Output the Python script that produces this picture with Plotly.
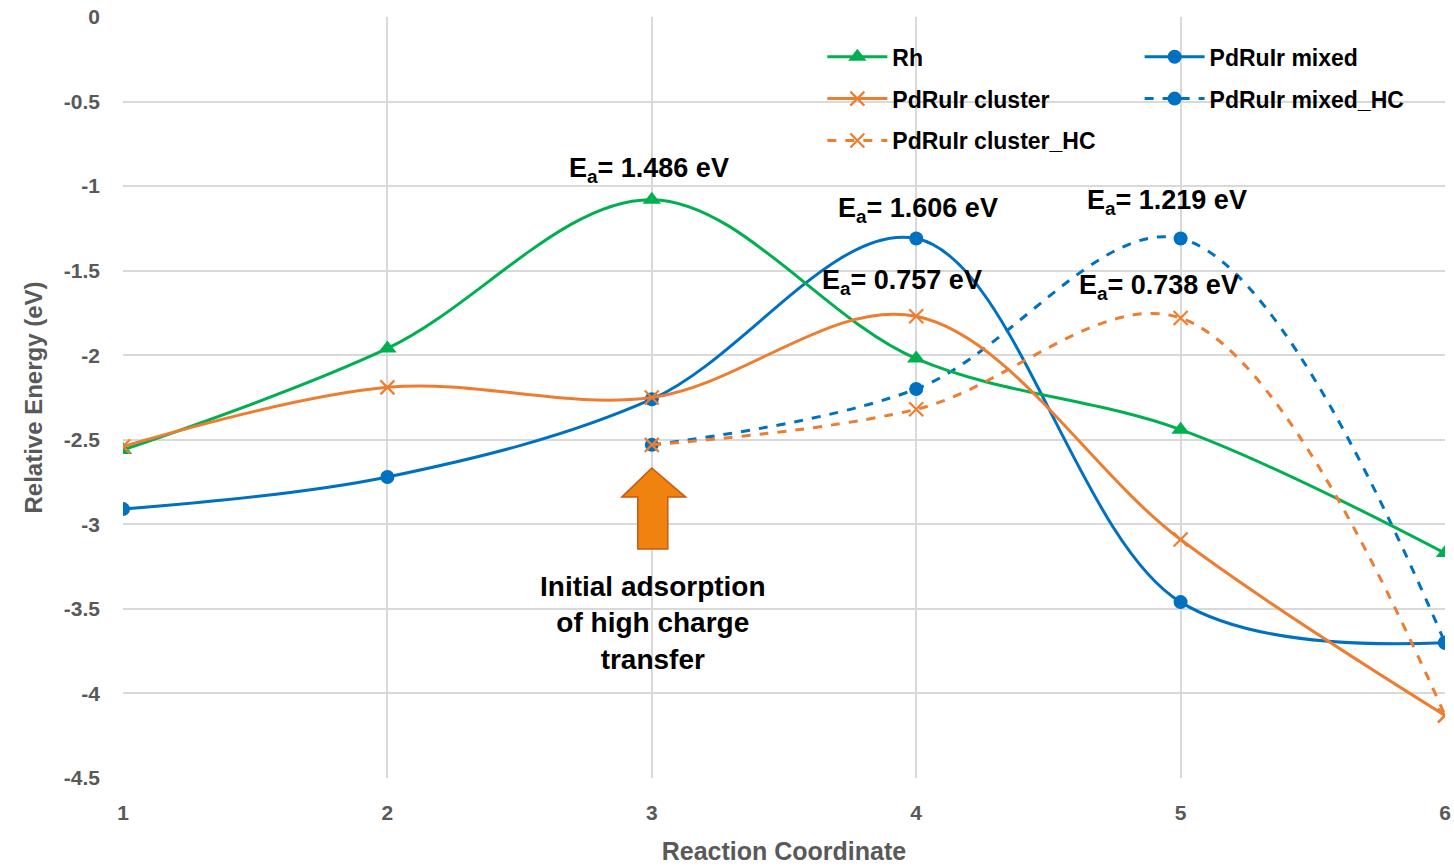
import plotly.graph_objects as go

x_all = [1, 2, 3, 4, 5, 6]
x_hc = [3, 4, 5, 6]

rh = [-2.56, -1.96, -1.08, -2.02, -2.44, -3.17]
cluster = [-2.54, -2.19, -2.25, -1.77, -3.09, -4.13]
mixed = [-2.91, -2.72, -2.26, -1.31, -3.46, -3.70]
mixed_hc = [-2.53, -2.20, -1.31, -3.70]
cluster_hc = [-2.53, -2.32, -1.78, -4.13]

GREEN = "#00B050"
BLUE = "#0070C0"
ORANGE = "#ED7D31"
FONT = "Liberation Sans, Arial, sans-serif"

fig = go.Figure()

def add(name, x, y, color, symbol, dash, legend, rank):
    if symbol == "x-thin":
        mk = dict(color=color, size=14, symbol=symbol, line=dict(color=color, width=2.2))
    elif symbol == "triangle-up":
        mk = dict(color=color, size=16, symbol=symbol)
    else:
        mk = dict(color=color, size=14, symbol=symbol)
    fig.add_trace(go.Scatter(
        x=x, y=y, name="<b>" + name + "</b>", mode="lines+markers",
        line=dict(color=color, width=3, shape="spline", smoothing=1, dash=dash),
        marker=mk, legend=legend, legendgroup=name, legendrank=rank,
    ))

add("PdRuIr mixed_HC", x_hc, mixed_hc, BLUE, "circle", "dash", "legend2", 2)
add("PdRuIr mixed", x_all, mixed, BLUE, "circle", "solid", "legend2", 1)
add("Rh", x_all, rh, GREEN, "triangle-up", "solid", "legend", 1)
add("PdRuIr cluster_HC", x_hc, cluster_hc, ORANGE, "x-thin", "dash", "legend", 3)
add("PdRuIr cluster", x_all, cluster, ORANGE, "x-thin", "solid", "legend", 2)

# Block arrow pointing up at x=3
fig.add_shape(
    type="path",
    path="M 3,-2.667 L 3.128,-2.839 L 3.0605,-2.839 L 3.0605,-3.146 L 2.947,-3.146 L 2.947,-2.839 L 2.8865,-2.839 Z",
    xref="x", yref="y", fillcolor="#F0820F", line=dict(color="#C55A11", width=1.5),
)

ann_font = dict(family=FONT, size=27, color="black")
labels = [
    (2.99, -0.905, "E<sub>a</sub>= 1.486 eV"),
    (4.006, -1.141, "E<sub>a</sub>= 1.606 eV"),
    (3.946, -1.567, "E<sub>a</sub>= 0.757 eV"),
    (4.949, -1.094, "E<sub>a</sub>= 1.219 eV"),
    (4.92, -1.597, "E<sub>a</sub>= 0.738 eV"),
]
for ax, ay, t in labels:
    fig.add_annotation(x=ax, y=ay, text="<b>" + t + "</b>", showarrow=False, font=ann_font)

fig.add_annotation(x=3.005, y=-3.584, text="<b>Initial adsorption<br>of high charge<br>transfer</b>",
                   showarrow=False, font=dict(family=FONT, size=28, color="black"), align="center")

axis_common = dict(showgrid=True, gridcolor="#D9D9D9", gridwidth=2, zeroline=False,
                   showline=False, ticks="", automargin=False,
                   tickfont=dict(family=FONT, size=21, color="#595959"))

fig.update_xaxes(range=[1, 6], tickvals=x_all, ticktext=[f"<b>{v}</b>" for v in x_all],
                 title=dict(text="<b>Reaction Coordinate</b>", font=dict(family=FONT, size=25, color="#595959"), standoff=19),
                 ticklabelstandoff=20, **axis_common)
yt = [0, -0.5, -1, -1.5, -2, -2.5, -3, -3.5, -4, -4.5]
fig.update_yaxes(range=[-4.5, 0], tickvals=yt, ticktext=[f"<b>{v:g}</b>" for v in yt],
                 title=dict(text="<b>Relative Energy (eV)</b>", font=dict(family=FONT, size=24, color="#595959"), standoff=14),
                 ticklabelstandoff=22, **axis_common)

leg_font = dict(family=FONT, size=23, color="black")
fig.update_layout(
    width=1454, height=867,
    margin=dict(l=123, r=9, t=17, b=89),
    plot_bgcolor="white", paper_bgcolor="white",
    legend=dict(x=0.529, y=0.976, xanchor="left", yanchor="top", font=leg_font,
                bgcolor="rgba(255,255,255,0)", traceorder="grouped", tracegroupgap=9, itemwidth=60),
    legend2=dict(x=0.769, y=0.976, xanchor="left", yanchor="top", font=leg_font,
                 bgcolor="rgba(255,255,255,0)", traceorder="grouped", tracegroupgap=9, itemwidth=60),
)

fig.write_html("out.html", config={"displayModeBar": False},
               post_script="document.body.style.margin='0';document.body.style.overflow='hidden';")
